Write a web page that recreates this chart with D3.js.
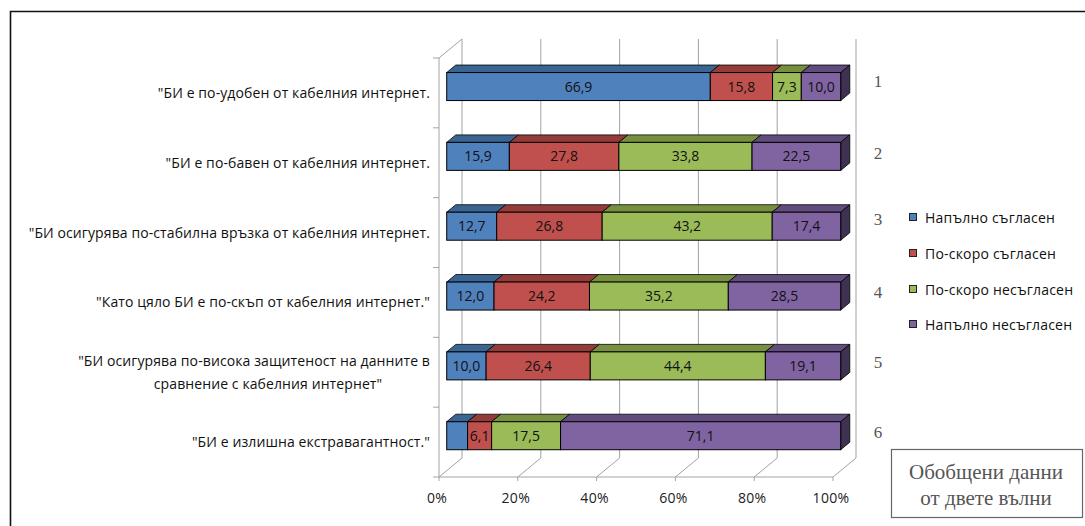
<!DOCTYPE html>
<html>
<head>
<meta charset="utf-8">
<script src="https://cdn.jsdelivr.net/npm/d3@7"></script>
<style>
  html, body { margin: 0; padding: 0; background: #fff; }
  svg { display: block; }
  .cat, .val, .leg, .tick-lbl { font-family: "Open Sans", "Noto Sans", sans-serif; }
  .serif { font-family: "Liberation Serif", "DejaVu Serif", serif; }
</style>
</head>
<body>
<svg id="chart" width="1085" height="526"></svg>
<script>
// Statements (rows, top to bottom)
const categories = [
  ["\"БИ е по-удобен от кабелния интернет."],
  ["\"БИ е по-бавен от кабелния интернет."],
  ["\"БИ осигурява по-стабилна връзка от кабелния интернет."],
  ["\"Като цяло БИ е по-скъп от кабелния интернет.\""],
  ["\"БИ осигурява по-висока защитеност на данните в", "сравнение с кабелния интернет\""],
  ["\"БИ е излишна екстравагантност.\""]
];
const rowNumbers = ["1", "2", "3", "4", "5", "6"];

// Answer shares, %
const seriesNames = ["Напълно съгласен", "По-скоро съгласен", "По-скоро несъгласен", "Напълно несъгласен"];
const fullyAgree      = [66.9, 15.9, 12.7, 12.0, 10.0, 5.3];
const ratherAgree     = [15.8, 27.8, 26.8, 24.2, 26.4, 6.1];
const ratherDisagree  = [7.3, 33.8, 43.2, 35.2, 44.4, 17.5];
const fullyDisagree   = [10.0, 22.5, 17.4, 28.5, 19.1, 71.1];
const seriesValues = [fullyAgree, ratherAgree, ratherDisagree, fullyDisagree];
// the narrow first segment of the last row carries no label
const hiddenLabels = [[0, 5]];

const tickValues = [0, 20, 40, 60, 80, 100];
const tickLabels = ["0%", "20%", "40%", "60%", "80%", "100%"];

const noteLines = ["Обобщени данни", "от двете вълни"];

// colours: front face, top face, side face
const frontCol = ["#4F81BD", "#C0504D", "#9BBB59", "#8064A2"];
const topCol   = ["#3A6592", "#943C3A", "#76903F", "#614C7E"];
const sideCol  = ["#2C4D70", "#702D2B", "#59702F", "#3F3152"];

const svg = d3.select("#chart");

// outer frame
svg.append("path")
  .attr("d", "M10.5,526 L10.5,11.5 L1085,11.5")
  .attr("fill", "none").attr("stroke", "#111").attr("stroke-width", 1.6);

// 3D plot geometry
const x0 = 439;            // front-left floor corner
const floorY = 477;        // front floor edge
const depth = [23, -19];   // full depth offset of the plot box
const barF = 0.335, barB = 0.73; // bar front/back position in depth

const x = d3.scaleLinear().domain([0, 100]).range([0, 394]);
const y = d3.scaleBand().domain(d3.range(categories.length)).range([58, floorY]).paddingInner(0).paddingOuter(0);
const barH = 28;

const grid = "#a3a3a3";
const g = svg.append("g");

// back wall gridlines
g.selectAll("line.grid").data(tickValues).join("line")
  .attr("class", "grid")
  .attr("x1", d => x0 + depth[0] + x(d)).attr("x2", d => x0 + depth[0] + x(d))
  .attr("y1", 58 + depth[1]).attr("y2", floorY + depth[1])
  .attr("stroke", grid).attr("stroke-width", 1);

// floor lines
g.selectAll("line.floor").data(tickValues).join("line")
  .attr("class", "floor")
  .attr("x1", d => x0 + x(d)).attr("y1", floorY)
  .attr("x2", d => x0 + depth[0] + x(d)).attr("y2", floorY + depth[1])
  .attr("stroke", grid).attr("stroke-width", 1);

// floor front edge and ticks
g.append("line")
  .attr("x1", x0 + x(0)).attr("x2", x0 + x(100))
  .attr("y1", floorY).attr("y2", floorY)
  .attr("stroke", grid);
g.selectAll("line.xt").data(tickValues).join("line")
  .attr("class", "xt")
  .attr("x1", d => x0 + x(d)).attr("x2", d => x0 + x(d))
  .attr("y1", floorY).attr("y2", floorY + 4)
  .attr("stroke", grid);

// left wall
g.append("path")
  .attr("d", `M${x0},${floorY} L${x0},58 L${x0 + depth[0]},${58 + depth[1]}`)
  .attr("fill", "none").attr("stroke", grid);
const bounds = d3.range(categories.length + 1).map(i => i === categories.length ? floorY : y(i));
g.selectAll("line.yt").data(bounds).join("line")
  .attr("class", "yt")
  .attr("x1", x0 - 6).attr("x2", x0)
  .attr("y1", d => d).attr("y2", d => d)
  .attr("stroke", grid);

// x tick labels
g.selectAll("text.tick-lbl").data(tickValues).join("text")
  .attr("class", "tick-lbl")
  .attr("x", d => x0 + x(d) - 2).attr("y", 503)
  .attr("text-anchor", "middle")
  .attr("font-size", 14).attr("letter-spacing", 0.3).attr("fill", "#222")
  .text((d, i) => tickLabels[i]);

// stacked 3D bars
const fdx = depth[0] * barF, fdy = depth[1] * barF;
const bdx = depth[0] * (barB - barF), bdy = depth[1] * (barB - barF);

categories.forEach((cat, r) => {
  const cy = y(r) + y.bandwidth() / 2 + fdy;
  const yt = cy - barH / 2, yb = cy + barH / 2;
  const total = d3.sum(seriesValues, s => s[r]);
  let acc = 0;
  const segs = seriesValues.map((s, k) => {
    const v0 = acc / total * 100;
    acc += s[r];
    const v1 = acc / total * 100;
    return { k, r, v: s[r], x1: x0 + fdx + x(v0), x2: x0 + fdx + x(v1) };
  });
  const rg = g.append("g");
  segs.forEach((s, idx) => {
    // top face
    rg.append("path")
      .attr("d", `M${s.x1},${yt} L${s.x1 + bdx},${yt + bdy} L${s.x2 + bdx},${yt + bdy} L${s.x2},${yt} Z`)
      .attr("fill", topCol[s.k]).attr("stroke", "#000").attr("stroke-width", 0.8).attr("stroke-linejoin", "round");
    // side face on the right end
    if (idx === segs.length - 1) {
      rg.append("path")
        .attr("d", `M${s.x2},${yt} L${s.x2 + bdx},${yt + bdy} L${s.x2 + bdx},${yb + bdy} L${s.x2},${yb} Z`)
        .attr("fill", sideCol[s.k]).attr("stroke", "#000").attr("stroke-width", 0.8).attr("stroke-linejoin", "round");
    }
    // front face
    rg.append("rect")
      .attr("x", s.x1).attr("y", yt)
      .attr("width", s.x2 - s.x1).attr("height", barH)
      .attr("fill", frontCol[s.k]).attr("stroke", "#000").attr("stroke-width", 1);
    const hidden = hiddenLabels.some(h => h[0] === s.k && h[1] === s.r);
    if (!hidden) {
      rg.append("text")
        .attr("class", "val")
        .attr("x", (s.x1 + s.x2) / 2).attr("y", cy + 5)
        .attr("text-anchor", "middle")
        .attr("font-size", 14).attr("fill", "#111")
        .text(d3.format(".1f")(s.v).replace(".", ","));
    }
  });
});

// category labels
categories.forEach((lines, r) => {
  const cy = y(r) + y.bandwidth() / 2;
  const lh = 23;
  const startY = cy - (lines.length - 1) * lh / 2 + 5;
  lines.forEach((t, j) => {
    const last = j === lines.length - 1 && lines.length > 1;
    g.append("text")
      .attr("class", "cat")
      .attr("x", last ? 268 : 430)
      .attr("y", startY + j * lh)
      .attr("text-anchor", last ? "middle" : "end")
      .attr("font-size", 14).attr("letter-spacing", 0.1).attr("fill", "#111")
      .text(t);
  });
});

// row numbers
const numY = [87, 159, 225, 298, 368, 438];
svg.selectAll("text.num").data(rowNumbers).join("text")
  .attr("class", "num serif")
  .attr("x", 878).attr("y", (d, i) => numY[i])
  .attr("text-anchor", "middle")
  .attr("font-size", 17).attr("fill", "#555")
  .text(d => d);

// legend
const legY = [218, 254, 290, 325];
const leg = svg.append("g");
seriesNames.forEach((n, k) => {
  leg.append("rect")
    .attr("x", 909.5).attr("y", legY[k] - 4.5)
    .attr("width", 7).attr("height", 7)
    .attr("fill", frontCol[k]).attr("stroke", "#222").attr("stroke-width", 1);
  leg.append("text")
    .attr("class", "leg")
    .attr("x", 925).attr("y", legY[k] + 5)
    .attr("font-size", 14).attr("letter-spacing", 0.2).attr("fill", "#111")
    .text(n);
});

// note box
svg.append("rect")
  .attr("x", 891.5).attr("y", 449.5).attr("width", 191).attr("height", 68)
  .attr("fill", "#fff").attr("stroke", "#666").attr("stroke-width", 1.2);
svg.selectAll("text.note").data(noteLines).join("text")
  .attr("class", "note serif")
  .attr("x", 986).attr("y", (d, i) => 479 + i * 26)
  .attr("text-anchor", "middle")
  .attr("font-size", 21).attr("fill", "#555")
  .text(d => d);
</script>
</body>
</html>
